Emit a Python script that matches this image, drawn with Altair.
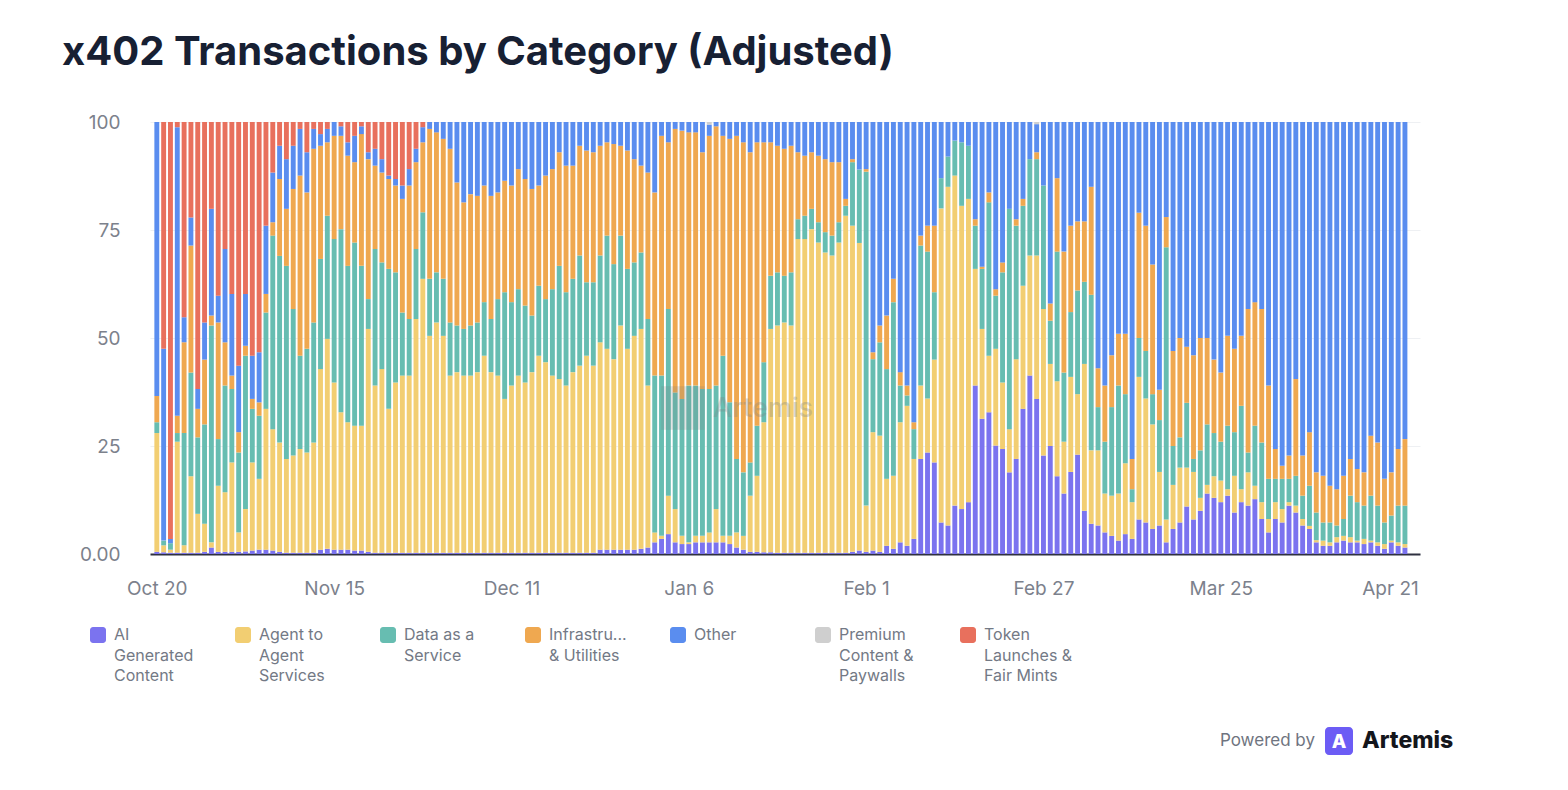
import altair as alt
import pandas as pd
import numpy as np

# ---------------- data ----------------
categories = [
    "AI Generated Content",
    "Agent to Agent Services",
    "Data as a Service",
    "Infrastructure & Utilities",
    "Other",
    "Premium Content & Paywalls",
    "Token Launches & Fair Mints",
]
legend_labels = [
    "AI\nGenerated\nContent",
    "Agent to\nAgent\nServices",
    "Data as a\nService",
    "Infrastru...\n& Utilities",
    "Other",
    "Premium\nContent &\nPaywalls",
    "Token\nLaunches &\nFair Mints",
]
colors = ["#7B73EF", "#F2CE72", "#67BDB1", "#EFA850", "#5A8DEF", "#CFCFCF", "#E8705D"]

first_day = "2025-10-20"
last_day = "2026-04-21"
tick_days = ["2025-10-20", "2025-11-15", "2025-12-11", "2026-01-06",
             "2026-02-01", "2026-02-27", "2026-03-25", "2026-04-21"]

# cumulative top edge (percent) of each stacked segment, one value per day
ai_top = [
    0.5, 0.4, 0.3, 0.3, 0.3, 0.3, 0.3, 0.5, 1.5, 0.5,
    0.5, 0.5, 0.5, 0.6, 0.8, 1.0, 1.0, 0.8, 0.5, 0.3,
    0.3, 0.3, 0.3, 0.3, 1.0, 1.2, 1.0, 1.0, 1.0, 0.8,
    0.8, 0.5, 0.3, 0.3, 0.3, 0.3, 0.3, 0.3, 0.3, 0.3,
    0.3, 0.3, 0.3, 0.3, 0.3, 0.3, 0.3, 0.3, 0.3, 0.3,
    0.3, 0.3, 0.3, 0.3, 0.3, 0.3, 0.3, 0.3, 0.3, 0.3,
    0.3, 0.3, 0.3, 0.3, 0.3, 1.0, 1.0, 1.0, 1.0, 1.0,
    1.0, 1.2, 1.5, 2.7, 3.5, 4.6, 2.7, 2.3, 2.3, 2.7,
    2.7, 2.7, 2.7, 2.7, 2.3, 1.5, 1.0, 0.5, 0.5, 0.4,
    0.4, 0.3, 0.3, 0.3, 0.3, 0.3, 0.3, 0.3, 0.3, 0.3,
    0.3, 0.3, 0.5, 0.8, 0.5, 0.8, 0.5, 1.9, 1.2, 2.7,
    1.9, 3.5, 22.0, 23.5, 21.2, 7.3, 6.6, 11.2, 10.4, 12.0,
    39.0, 31.3, 32.8, 25.1, 24.3, 18.9, 22.0, 33.6, 41.3, 35.9,
    22.8, 25.0, 18.0, 14.0, 19.0, 23.0, 10.0, 7.0, 6.6, 5.0,
    4.2, 3.1, 4.6, 3.5, 8.0, 7.3, 5.8, 6.6, 2.7, 5.8,
    7.3, 11.0, 8.0, 10.0, 14.0, 13.0, 12.0, 13.5, 9.6, 12.0,
    11.2, 12.7, 8.1, 5.0, 8.1, 7.3, 11.2, 9.6, 6.6, 5.8,
    2.7, 1.9, 1.9, 2.7, 3.1, 2.7, 2.7, 2.3, 2.7, 1.9,
    1.2, 2.7, 1.9, 1.5,
]
agent_top = [
    28.0, 2.0, 1.0, 26.0, 2.0, 18.0, 9.3, 7.0, 2.7, 15.8,
    14.3, 21.2, 5.0, 10.4, 21.2, 17.4, 33.6, 28.9, 25.8, 22.0,
    22.8, 24.3, 23.5, 25.8, 42.8, 49.8, 39.7, 32.8, 30.5, 29.7,
    29.7, 52.1, 39.0, 42.8, 33.6, 39.7, 41.3, 41.3, 54.4, 63.7,
    50.5, 53.6, 50.5, 41.3, 42.1, 41.3, 41.3, 42.1, 45.9, 42.1,
    41.3, 35.9, 39.0, 41.3, 39.7, 42.1, 45.9, 44.4, 41.3, 40.5,
    39.0, 42.1, 43.6, 45.9, 43.6, 49.0, 47.5, 45.1, 52.9, 47.5,
    50.5, 52.1, 39.0, 5.0, 4.2, 13.5, 10.4, 4.2, 2.7, 4.2,
    4.2, 5.0, 10.4, 4.2, 4.2, 5.0, 4.2, 13.5, 18.1, 30.5,
    52.1, 52.9, 53.6, 52.9, 72.9, 72.9, 75.2, 72.1, 69.8, 69.1,
    72.1, 78.3, 76.0, 72.0, 11.2, 28.2, 27.4, 17.4, 18.1, 30.5,
    34.3, 22.0, 39.0, 36.0, 45.0, 80.0, 85.0, 87.6, 80.6, 82.2,
    66.0, 52.1, 45.9, 47.5, 39.7, 28.9, 45.1, 62.1, 69.1, 69.1,
    56.7, 44.0, 40.0, 26.0, 41.0, 37.0, 44.0, 24.0, 24.0, 14.0,
    13.5, 14.0, 21.0, 12.0, 41.0, 36.0, 30.0, 19.0, 8.0, 16.0,
    20.0, 20.0, 19.0, 13.0, 16.0, 18.0, 17.0, 15.0, 18.1, 15.0,
    18.9, 15.8, 12.0, 8.1, 12.0, 10.4, 12.0, 11.2, 8.1, 6.5,
    3.2, 3.1, 2.7, 3.9, 4.2, 3.9, 3.1, 3.5, 3.1, 2.7,
    2.3, 3.1, 2.7, 2.3,
]
data_top = [
    30.5, 3.1, 2.5, 28.0, 28.0, 42.0, 27.0, 30.0, 52.9, 26.6,
    39.0, 38.2, 23.5, 45.9, 33.6, 32.0, 55.9, 73.7, 69.0, 66.7,
    56.7, 45.9, 47.5, 53.6, 68.3, 78.3, 72.9, 75.2, 66.7, 72.1,
    66.7, 59.0, 70.6, 67.5, 66.0, 65.2, 55.9, 54.4, 70.6, 79.1,
    63.7, 65.2, 63.7, 53.6, 52.9, 52.1, 52.9, 53.6, 58.3, 54.4,
    59.0, 60.6, 58.3, 61.3, 57.5, 55.2, 62.1, 59.0, 61.3, 66.7,
    60.6, 63.7, 69.1, 62.9, 62.9, 69.1, 73.7, 67.1, 73.7, 66.0,
    67.5, 69.8, 54.4, 41.3, 41.3, 56.7, 37.4, 35.9, 39.0, 39.0,
    38.2, 38.2, 39.0, 45.9, 35.1, 22.0, 18.9, 21.2, 29.7, 44.4,
    64.4, 65.2, 64.4, 65.2, 77.5, 78.3, 79.9, 76.8, 74.5, 73.7,
    76.8, 80.6, 90.7, 89.0, 88.5, 45.1, 49.0, 42.8, 58.3, 39.0,
    36.7, 28.9, 71.4, 70.0, 60.6, 87.0, 92.0, 95.7, 95.3, 94.5,
    76.0, 66.0, 81.4, 59.8, 65.2, 79.9, 76.0, 80.6, 91.4, 91.4,
    85.3, 54.0, 70.0, 42.0, 56.0, 61.0, 63.0, 60.0, 34.0, 26.0,
    34.0, 39.0, 37.0, 15.0, 50.0, 47.0, 37.0, 31.0, 71.0, 25.0,
    27.0, 35.0, 22.0, 24.0, 30.0, 28.0, 26.0, 29.7, 28.2, 34.3,
    23.5, 29.7, 25.8, 17.4, 17.4, 17.4, 17.4, 18.1, 13.5, 15.8,
    9.6, 7.3, 7.3, 6.6, 8.1, 13.5, 12.0, 11.2, 13.5, 11.2,
    7.3, 8.9, 11.2, 11.2,
]
infra_top = [
    36.6, 3.1, 2.5, 32.0, 49.0, 71.4, 33.6, 45.0, 55.2, 53.6,
    49.0, 41.3, 28.2, 48.2, 35.9, 35.1, 60.2, 76.8, 86.8, 79.9,
    84.5, 87.6, 83.7, 93.8, 94.5, 95.3, 96.8, 96.8, 92.2, 90.7,
    97.2, 91.4, 89.9, 88.3, 86.8, 85.3, 82.2, 85.3, 90.7, 95.3,
    98.4, 97.6, 96.1, 93.8, 86.0, 81.4, 83.3, 82.9, 85.3, 82.9,
    83.7, 86.4, 85.3, 89.1, 86.8, 84.5, 85.3, 87.6, 89.1, 93.0,
    89.9, 89.9, 94.5, 93.4, 93.0, 94.5, 95.3, 94.9, 94.5, 93.4,
    91.4, 89.9, 88.3, 83.7, 96.8, 95.3, 98.4, 98.0, 97.6, 97.6,
    93.0, 96.8, 99.0, 96.8, 96.1, 96.8, 95.3, 93.0, 95.3, 95.3,
    95.3, 94.5, 93.8, 94.5, 93.0, 92.2, 93.0, 92.2, 91.4, 90.7,
    90.7, 82.2, 91.4, 89.0, 89.1, 46.7, 52.9, 55.2, 63.7, 42.1,
    39.0, 30.5, 73.7, 76.0, 76.0, 87.0, 92.0, 95.7, 95.3, 94.5,
    77.5, 66.5, 83.7, 61.3, 67.5, 79.9, 77.5, 82.2, 91.4, 93.0,
    85.3, 58.0, 87.0, 70.0, 76.0, 77.0, 77.0, 85.0, 43.0, 39.0,
    46.0, 51.0, 51.0, 22.0, 79.0, 76.0, 67.0, 38.0, 78.0, 47.0,
    50.0, 48.0, 46.0, 50.0, 50.0, 45.0, 42.0, 50.5, 47.5, 50.5,
    56.7, 58.3, 56.7, 39.0, 24.3, 20.4, 22.8, 40.5, 22.8, 28.2,
    18.9, 18.1, 15.8, 15.0, 18.1, 22.0, 19.7, 18.9, 27.4, 25.8,
    17.4, 18.9, 24.3, 26.6,
]
# top of "Other" (+ Premium) while Token launches still appear (first 40 days); 100 afterwards
other_top_early = [
    100.0, 47.5, 3.5, 98.8, 54.8, 77.9, 38.2, 53.6, 79.9, 59.8,
    70.6, 60.2, 43.6, 60.2, 45.9, 46.7, 76.0, 88.3, 94.5, 91.4,
    94.5, 98.4, 93.0, 98.4, 97.2, 98.4, 100.0, 99.0, 95.3, 96.8,
    99.0, 93.0, 93.8, 91.4, 87.6, 86.8, 85.3, 89.1, 93.8, 98.8,
]
premium_days = {"2026-01-09": 0.6, "2026-02-26": 0.5}

# ---------------- build the long table ----------------
dates = pd.date_range(first_day, last_day, freq="D")
n = len(dates)
other_top = other_top_early + [100.0] * (n - len(other_top_early))
premium = np.zeros(n)
for d, v in premium_days.items():
    premium[dates.get_loc(pd.Timestamp(d))] = v

ai = np.array(ai_top)
ag = np.array(agent_top)
da = np.array(data_top)
inf = np.array(infra_top)
ot = np.array(other_top)
shares = [
    ai,
    ag - ai,
    da - ag,
    inf - da,
    ot - inf - premium,
    premium,
    100.0 - ot,
]
rows = []
for ci, cat in enumerate(categories):
    vals = np.clip(shares[ci], 0, None)
    for i in range(n):
        rows.append({
            "date": dates[i].strftime("%Y-%m-%dT00:00:00"),
            "category": cat,
            "idx": ci,
            "value": round(float(vals[i]), 2),
        })
df = pd.DataFrame(rows)

FONT = "Inter"
LABEL_GREY = "#7c818c"

tick_values = [alt.DateTime(year=d.year, month=d.month, date=d.day)
               for d in pd.to_datetime(tick_days)]

color_scale = alt.Scale(domain=categories, range=colors)

bars = alt.Chart(df).mark_bar(width=4.9).encode(
    x=alt.X(
        "date:T",
        scale=alt.Scale(
            domain=[alt.DateTime(year=2025, month=10, date=19),
                    alt.DateTime(year=2026, month=4, date=23, hours=5)],
            nice=False, padding=0),
        axis=alt.Axis(
            values=tick_values, format="%b %-d", title=None, grid=False,
            ticks=False, domain=True, domainColor="#2f3140", domainWidth=2,
            labelFontSize=19, labelColor=LABEL_GREY, labelFont=FONT,
            labelPadding=25,
            labelOffset={"condition": {"test": "month(datum.value) == 3", "value": -15},
                         "value": 0}),
    ),
    y=alt.Y(
        "value:Q", stack="zero",
        scale=alt.Scale(domain=[0, 100], nice=False),
        axis=alt.Axis(
            values=[0, 25, 50, 75, 100],
            labelExpr="datum.value == 0 ? '0.00' : datum.label",
            title=None, ticks=False, domain=False, gridColor="#eef0f3",
            labelFontSize=19, labelColor=LABEL_GREY, labelFont=FONT,
            labelPadding=30, minExtent=88),
    ),
    color=alt.Color("category:N", scale=color_scale, legend=None),
    order=alt.Order("idx:Q", sort="ascending"),
)

wm_df = pd.DataFrame({"t": ["Artemis"]})
wm_logo = alt.Chart(wm_df).mark_square(size=1900, color="#7d8585", opacity=0.22).encode(
    x=alt.value(533), y=alt.value(286))
wm_text = alt.Chart(wm_df).mark_text(
    fontSize=27, font=FONT, fontWeight=500, color="#7d8585", opacity=0.3,
    align="left", baseline="middle").encode(
    x=alt.value(563), y=alt.value(287), text="t:N")

main = alt.layer(bars, wm_logo, wm_text).properties(width=1270, height=432)

# ---------------- custom legend + footer ----------------
leg_df = pd.DataFrame({"category": categories, "label": legend_labels})
lx = alt.X("category:N", sort=categories,
           scale=alt.Scale(type="point", range=[-52, 818], padding=0), axis=None)
leg_sq = alt.Chart(leg_df).mark_bar(width=16, cornerRadius=3).encode(
    x=lx, y=alt.value(7), y2=alt.value(23),
    color=alt.Color("category:N", scale=color_scale, legend=None))
leg_tx = alt.Chart(leg_df).mark_text(
    align="left", baseline="top", dx=16, dy=-8, lineBreak="\n", lineHeight=20.5,
    fontSize=16, font=FONT, color="#737985").encode(
    x=lx, y=alt.value(15), text="label:N")

foot_df = pd.DataFrame({"t": ["Powered by"], "a": ["A"], "b": ["Artemis"]})
powered = alt.Chart(foot_df).mark_text(
    align="right", baseline="middle", fontSize=17, font=FONT, color="#6f7480").encode(
    x=alt.value(1165), y=alt.value(121), text="t:N")
logo = alt.Chart(foot_df).mark_rect(cornerRadius=4, color="#6C5CF5").encode(
    x=alt.value(1175), x2=alt.value(1203), y=alt.value(107), y2=alt.value(135))
logo_a = alt.Chart(foot_df).mark_text(
    align="center", baseline="middle", fontSize=19, font=FONT, fontWeight=800,
    color="white").encode(x=alt.value(1189), y=alt.value(122), text="a:N")
artemis = alt.Chart(foot_df).mark_text(
    align="left", baseline="middle", fontSize=23, font=FONT, fontWeight=800,
    color="#14161c").encode(x=alt.value(1212), y=alt.value(121), text="b:N")

legend_panel = alt.layer(leg_sq, leg_tx, powered, logo, logo_a, artemis).properties(
    width=1300, height=140)

chart = alt.vconcat(main, legend_panel, spacing=22).resolve_scale(
    x="independent", y="independent", color="shared"
).properties(
    title=alt.TitleParams(
        "x402 Transactions by Category (Adjusted)", anchor="start", fontSize=40,
        font=FONT, fontWeight=700, color="#172033", offset=40),
    padding={"left": 54, "top": 25, "right": 10, "bottom": 10},
).configure_view(stroke=None)

chart.save("out.html", embed_options={"renderer": "svg", "actions": False})
